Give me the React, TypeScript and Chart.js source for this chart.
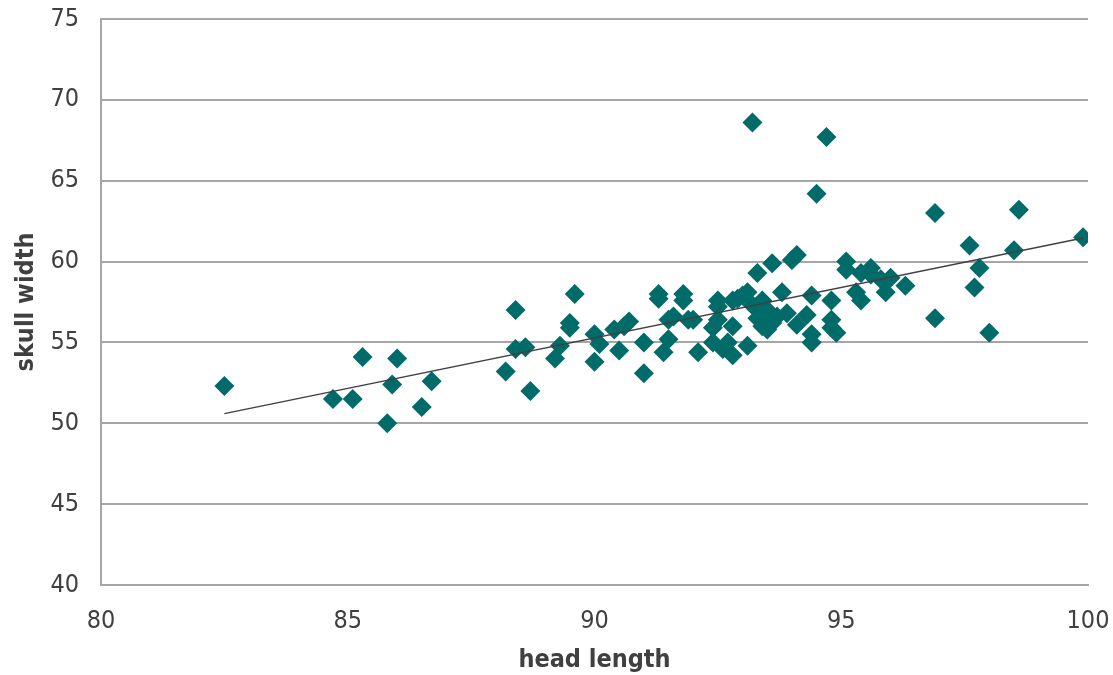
import React, { useEffect, useRef } from "react";
import { Chart, registerables } from "chart.js";

Chart.register(...registerables);

const headLength: number[] = [
  82.5, 84.7, 85.1, 85.3, 85.8, 85.9, 86.0, 86.5, 86.7,
  88.2, 88.4, 88.4, 88.6, 88.7, 89.2, 89.3, 89.5, 89.5, 89.6,
  90.0, 90.0, 90.1, 90.4, 90.5, 90.6, 90.7, 91.0, 91.0,
  91.3, 91.3, 91.4, 91.5, 91.5, 91.6, 91.8, 91.8, 91.9, 92.0, 92.1,
  92.4, 92.4, 92.5, 92.5, 92.5, 92.6, 92.7, 92.8, 92.8, 92.8, 92.9,
  93.0, 93.1, 93.1, 93.2, 93.2, 93.3, 93.3, 93.4, 93.4, 93.5, 93.5,
  93.6, 93.6, 93.7, 93.8, 93.9, 94.0, 94.1, 94.1, 94.3, 94.4, 94.4, 94.4,
  94.5, 94.7, 94.8, 94.8, 94.8, 94.9,
  95.1, 95.1, 95.3, 95.4, 95.4, 95.6, 95.6, 95.8, 95.9, 96.0, 96.3,
  96.9, 96.9, 97.6, 97.7, 97.8, 98.0, 98.5, 98.6, 99.9,
];

const skullWidth: number[] = [
  52.3, 51.5, 51.5, 54.1, 50.0, 52.4, 54.0, 51.0, 52.6,
  53.2, 57.0, 54.6, 54.7, 52.0, 54.0, 54.8, 56.2, 55.9, 58.0,
  55.5, 53.8, 54.9, 55.8, 54.5, 56.0, 56.3, 55.0, 53.1,
  58.0, 57.7, 54.4, 55.2, 56.4, 56.6, 58.0, 57.6, 56.4, 56.4, 54.4,
  55.9, 55.0, 57.6, 57.2, 56.4, 54.6, 55.0, 54.2, 56.0, 57.6, 57.7,
  57.9, 54.8, 58.1, 68.6, 57.3, 59.3, 56.5, 57.6, 56.0, 57.0, 55.8,
  59.9, 56.2, 56.6, 58.1, 56.8, 60.1, 60.4, 56.1, 56.7, 57.9, 55.5, 55.0,
  64.2, 67.7, 57.6, 56.4, 55.9, 55.6,
  60.0, 59.5, 58.1, 59.3, 57.6, 59.6, 59.2, 58.9, 58.1, 59.0, 58.5,
  63.0, 56.5, 61.0, 58.4, 59.6, 55.6, 60.7, 63.2, 61.5,
];

const xTicksRange = [80, 100];
const yTicksRange = [40, 75];
const tickStep = 5;

const FONT = "'DejaVu Sans Condensed', 'DejaVu Sans', sans-serif";

function linearFit(xs: number[], ys: number[]) {
  const n = xs.length;
  let sx = 0, sy = 0, sxx = 0, sxy = 0;
  for (let i = 0; i < n; i++) {
    sx += xs[i]; sy += ys[i]; sxx += xs[i] * xs[i]; sxy += xs[i] * ys[i];
  }
  const slope = (n * sxy - sx * sy) / (n * sxx - sx * sx);
  const intercept = (sy - slope * sx) / n;
  return { slope, intercept };
}

export default function App() {
  const ref = useRef<HTMLCanvasElement | null>(null);

  useEffect(() => {
    document.body.style.margin = "0";
    if (!ref.current) return;
    const pts = headLength.map((x, i) => ({ x, y: skullWidth[i] }));
    const { slope, intercept } = linearFit(headLength, skullWidth);
    const xMin = Math.min(...headLength);
    const xMax = Math.max(...headLength);
    const trend = [
      { x: xMin, y: slope * xMin + intercept },
      { x: xMax, y: slope * xMax + intercept },
    ];

    const chart = new Chart(ref.current, {
      type: "scatter",
      data: {
        datasets: [
          {
            label: "trend",
            data: trend,
            showLine: true,
            borderColor: "#404040",
            borderWidth: 1.5,
            pointRadius: 0,
            fill: false,
            order: 0,
          },
          {
            label: "skull width",
            data: pts,
            pointStyle: "rectRot",
            pointRadius: 10,
            backgroundColor: "#006B68",
            borderColor: "#006B68",
            borderWidth: 0,
            order: 1,
          },
        ],
      },
      options: {
        animation: false,
        responsive: true,
        maintainAspectRatio: false,
        layout: { padding: { top: 19, right: 25, left: 0, bottom: 0 } },
        plugins: { legend: { display: false }, tooltip: { enabled: false } },
        scales: {
          x: {
            type: "linear",
            min: xTicksRange[0],
            max: xTicksRange[1],
            ticks: {
              stepSize: tickStep,
              color: "#404040",
              font: { family: FONT, size: 25 },
              padding: 21,
            },
            grid: { display: false, drawTicks: false },
            border: { display: true, color: "#a6a6a6", width: 2 },
            title: {
              display: true,
              text: "head length",
              color: "#404040",
              font: { family: FONT, size: 25, weight: "bold" },
              padding: { top: 0, bottom: 0 },
            },
            afterFit: (s: any) => {
              s.height = 90;
              s.paddingLeft = 0;
              s.paddingRight = 0;
            },
          },
          y: {
            type: "linear",
            min: yTicksRange[0],
            max: yTicksRange[1],
            ticks: {
              stepSize: tickStep,
              color: "#404040",
              font: { family: FONT, size: 25 },
              padding: 22,
            },
            grid: { color: "#a6a6a6", lineWidth: 2, drawTicks: false },
            border: { display: true, color: "#a6a6a6", width: 2 },
            title: {
              display: true,
              text: "skull width",
              color: "#404040",
              font: { family: FONT, size: 25, weight: "bold" },
              padding: { top: 11, bottom: 0 },
            },
            afterFit: (s: any) => {
              s.width = 101;
              s.paddingTop = 0;
              s.paddingBottom = 0;
            },
          },
        },
      },
    });
    return () => chart.destroy();
  }, []);

  return (
    <div style={{ position: "absolute", left: 0, top: 0, width: 1113, height: 675 }}>
      <canvas ref={ref} />
    </div>
  );
}
